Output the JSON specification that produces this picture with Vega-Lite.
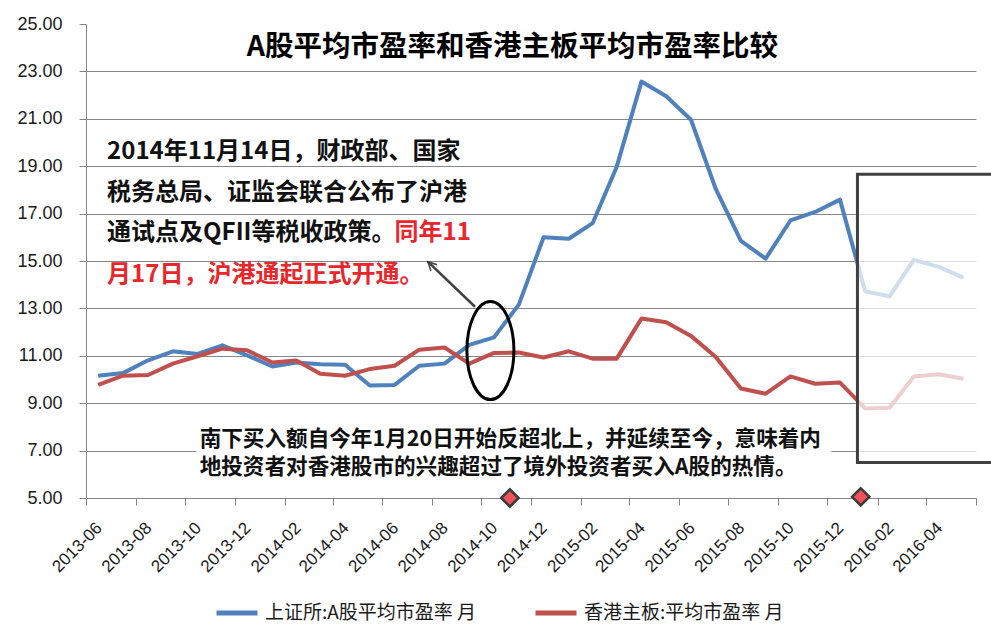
{
  "$schema": "https://vega.github.io/schema/vega-lite/v6.json",
  "autosize": {"type": "none"},
  "padding": {"left": 86, "top": 24, "right": 15, "bottom": 146},
  "width": 890,
  "height": 474,
  "background": "white",
  "config": {"view": {"stroke": null}},
  "datasets": {
    "pe": [
      {"month": "2013-06", "series": "上证所:A股平均市盈率 月", "pe": 10.16},
      {"month": "2013-07", "series": "上证所:A股平均市盈率 月", "pe": 10.27},
      {"month": "2013-08", "series": "上证所:A股平均市盈率 月", "pe": 10.81},
      {"month": "2013-09", "series": "上证所:A股平均市盈率 月", "pe": 11.19},
      {"month": "2013-10", "series": "上证所:A股平均市盈率 月", "pe": 11.08},
      {"month": "2013-11", "series": "上证所:A股平均市盈率 月", "pe": 11.44},
      {"month": "2013-12", "series": "上证所:A股平均市盈率 月", "pe": 11.02},
      {"month": "2014-01", "series": "上证所:A股平均市盈率 月", "pe": 10.55},
      {"month": "2014-02", "series": "上证所:A股平均市盈率 月", "pe": 10.72},
      {"month": "2014-03", "series": "上证所:A股平均市盈率 月", "pe": 10.64},
      {"month": "2014-04", "series": "上证所:A股平均市盈率 月", "pe": 10.62},
      {"month": "2014-05", "series": "上证所:A股平均市盈率 月", "pe": 9.75},
      {"month": "2014-06", "series": "上证所:A股平均市盈率 月", "pe": 9.77},
      {"month": "2014-07", "series": "上证所:A股平均市盈率 月", "pe": 10.58},
      {"month": "2014-08", "series": "上证所:A股平均市盈率 月", "pe": 10.67},
      {"month": "2014-09", "series": "上证所:A股平均市盈率 月", "pe": 11.46},
      {"month": "2014-10", "series": "上证所:A股平均市盈率 月", "pe": 11.78},
      {"month": "2014-11", "series": "上证所:A股平均市盈率 月", "pe": 13.16},
      {"month": "2014-12", "series": "上证所:A股平均市盈率 月", "pe": 16.0},
      {"month": "2015-01", "series": "上证所:A股平均市盈率 月", "pe": 15.94},
      {"month": "2015-02", "series": "上证所:A股平均市盈率 月", "pe": 16.6},
      {"month": "2015-03", "series": "上证所:A股平均市盈率 月", "pe": 18.97},
      {"month": "2015-04", "series": "上证所:A股平均市盈率 月", "pe": 22.57},
      {"month": "2015-05", "series": "上证所:A股平均市盈率 月", "pe": 21.95},
      {"month": "2015-06", "series": "上证所:A股平均市盈率 月", "pe": 20.96},
      {"month": "2015-07", "series": "上证所:A股平均市盈率 月", "pe": 18.04},
      {"month": "2015-08", "series": "上证所:A股平均市盈率 月", "pe": 15.85},
      {"month": "2015-09", "series": "上证所:A股平均市盈率 月", "pe": 15.1},
      {"month": "2015-10", "series": "上证所:A股平均市盈率 月", "pe": 16.71},
      {"month": "2015-11", "series": "上证所:A股平均市盈率 月", "pe": 17.07},
      {"month": "2015-12", "series": "上证所:A股平均市盈率 月", "pe": 17.59},
      {"month": "2016-01", "series": "上证所:A股平均市盈率 月", "pe": 13.72},
      {"month": "2016-02", "series": "上证所:A股平均市盈率 月", "pe": 13.51},
      {"month": "2016-03", "series": "上证所:A股平均市盈率 月", "pe": 15.05},
      {"month": "2016-04", "series": "上证所:A股平均市盈率 月", "pe": 14.75},
      {"month": "2016-05", "series": "上证所:A股平均市盈率 月", "pe": 14.3},
      {"month": "2013-06", "series": "香港主板:平均市盈率 月", "pe": 9.77},
      {"month": "2013-07", "series": "香港主板:平均市盈率 月", "pe": 10.16},
      {"month": "2013-08", "series": "香港主板:平均市盈率 月", "pe": 10.19},
      {"month": "2013-09", "series": "香港主板:平均市盈率 月", "pe": 10.67},
      {"month": "2013-10", "series": "香港主板:平均市盈率 月", "pe": 10.98},
      {"month": "2013-11", "series": "香港主板:平均市盈率 月", "pe": 11.3},
      {"month": "2013-12", "series": "香港主板:平均市盈率 月", "pe": 11.23},
      {"month": "2014-01", "series": "香港主板:平均市盈率 月", "pe": 10.72},
      {"month": "2014-02", "series": "香港主板:平均市盈率 月", "pe": 10.8},
      {"month": "2014-03", "series": "香港主板:平均市盈率 月", "pe": 10.24},
      {"month": "2014-04", "series": "香港主板:平均市盈率 月", "pe": 10.16},
      {"month": "2014-05", "series": "香港主板:平均市盈率 月", "pe": 10.44},
      {"month": "2014-06", "series": "香港主板:平均市盈率 月", "pe": 10.58},
      {"month": "2014-07", "series": "香港主板:平均市盈率 月", "pe": 11.26},
      {"month": "2014-08", "series": "香港主板:平均市盈率 月", "pe": 11.35},
      {"month": "2014-09", "series": "香港主板:平均市盈率 月", "pe": 10.67},
      {"month": "2014-10", "series": "香港主板:平均市盈率 月", "pe": 11.12},
      {"month": "2014-11", "series": "香港主板:平均市盈率 月", "pe": 11.14},
      {"month": "2014-12", "series": "香港主板:平均市盈率 月", "pe": 10.93},
      {"month": "2015-01", "series": "香港主板:平均市盈率 月", "pe": 11.19},
      {"month": "2015-02", "series": "香港主板:平均市盈率 月", "pe": 10.88},
      {"month": "2015-03", "series": "香港主板:平均市盈率 月", "pe": 10.88},
      {"month": "2015-04", "series": "香港主板:平均市盈率 月", "pe": 12.57},
      {"month": "2015-05", "series": "香港主板:平均市盈率 月", "pe": 12.42},
      {"month": "2015-06", "series": "香港主板:平均市盈率 月", "pe": 11.84},
      {"month": "2015-07", "series": "香港主板:平均市盈率 月", "pe": 10.95},
      {"month": "2015-08", "series": "香港主板:平均市盈率 月", "pe": 9.62},
      {"month": "2015-09", "series": "香港主板:平均市盈率 月", "pe": 9.4},
      {"month": "2015-10", "series": "香港主板:平均市盈率 月", "pe": 10.13},
      {"month": "2015-11", "series": "香港主板:平均市盈率 月", "pe": 9.82},
      {"month": "2015-12", "series": "香港主板:平均市盈率 月", "pe": 9.87},
      {"month": "2016-01", "series": "香港主板:平均市盈率 月", "pe": 8.78},
      {"month": "2016-02", "series": "香港主板:平均市盈率 月", "pe": 8.81},
      {"month": "2016-03", "series": "香港主板:平均市盈率 月", "pe": 10.13},
      {"month": "2016-04", "series": "香港主板:平均市盈率 月", "pe": 10.22},
      {"month": "2016-05", "series": "香港主板:平均市盈率 月", "pe": 10.03}
    ],
    "textbg": [{"start": "2013-10-15", "end": "2015-12-06", "low": 5.7, "high": 8.1}],
    "box": [{"start": "2016-01-07", "end": "2016-06-24", "low": 6.5, "high": 18.66}],
    "ellipse": [{"date": "2014-10-12", "value": 11.22}],
    "arrow": [{"from": "2014-09-23", "to": "2014-07-27", "fromValue": 13.07, "toValue": 14.97}],
    "arrowhead": [{"date": "2014-07-27", "value": 14.97}],
    "events": [{"date": "2014-11-05", "value": 5.0}, {"date": "2016-01-11", "value": 5.05}],
    "policy": [
      {"date": "2013-06-27", "value": 19.61, "text": "2014年11月14日，财政部、国家"},
      {"date": "2013-06-27", "value": 17.88, "text": "税务总局、证监会联合公布了沪港"},
      {"date": "2013-06-27", "value": 16.19, "text": "通试点及QFII等税收政策。"}
    ],
    "opening": [
      {"date": "2014-06-16", "value": 16.19, "text": "同年11"},
      {"date": "2013-06-27", "value": 14.42, "text": "月17日，沪港通起正式开通。"}
    ],
    "flows": [
      {"date": "2013-10-19", "value": 7.46, "text": "南下买入额自今年1月20日开始反超北上，并延续至今，意味着内"},
      {"date": "2013-10-19", "value": 6.28, "text": "地投资者对香港股市的兴趣超过了境外投资者买入A股的热情。"}
    ],
    "heading": [{"date": "2014-11-08", "value": 24.04, "text": "A股平均市盈率和香港主板平均市盈率比较"}]
  },
  "layer": [
    {
      "data": {"name": "pe"},
      "mark": {"type": "line", "strokeWidth": 4, "strokeJoin": "round"},
      "encoding": {
        "x": {
          "field": "month", "type": "temporal", "timeUnit": "utcyearmonth", "bandPosition": 0.5, "title": null,
          "scale": {"type": "utc", "domain": [{"year": 2013, "month": 6, "date": 1, "utc": true}, {"year": 2016, "month": 6, "date": 1, "utc": true}]},
          "axis": {
            "values": [
              {"year": 2013, "month": 6, "date": 1, "utc": true},
              {"year": 2013, "month": 8, "date": 1, "utc": true},
              {"year": 2013, "month": 10, "date": 1, "utc": true},
              {"year": 2013, "month": 12, "date": 1, "utc": true},
              {"year": 2014, "month": 2, "date": 1, "utc": true},
              {"year": 2014, "month": 4, "date": 1, "utc": true},
              {"year": 2014, "month": 6, "date": 1, "utc": true},
              {"year": 2014, "month": 8, "date": 1, "utc": true},
              {"year": 2014, "month": 10, "date": 1, "utc": true},
              {"year": 2014, "month": 12, "date": 1, "utc": true},
              {"year": 2015, "month": 2, "date": 1, "utc": true},
              {"year": 2015, "month": 4, "date": 1, "utc": true},
              {"year": 2015, "month": 6, "date": 1, "utc": true},
              {"year": 2015, "month": 8, "date": 1, "utc": true},
              {"year": 2015, "month": 10, "date": 1, "utc": true},
              {"year": 2015, "month": 12, "date": 1, "utc": true},
              {"year": 2016, "month": 2, "date": 1, "utc": true},
              {"year": 2016, "month": 4, "date": 1, "utc": true},
              {"year": 2016, "month": 6, "date": 1, "utc": true}
            ],
            "labelExpr": "utcFormat(datum.value, '%Y-%m') == '2016-06' ? '' : utcFormat(datum.value, '%Y-%m')",
            "labelAngle": -45, "labelAlign": "right", "labelBaseline": "middle",
            "labelOffset": 13, "labelPadding": 20, "labelOverlap": false, "labelBound": false,
            "labelFont": "Liberation Sans", "labelFontSize": 17, "labelColor": "#1a1a1a",
            "tickSize": 7, "tickColor": "#868686", "domainColor": "#868686", "grid": false
          }
        },
        "y": {
          "field": "pe", "type": "quantitative", "title": null,
          "scale": {"domain": [5, 25], "nice": false, "zero": false},
          "axis": {
            "values": [5, 7, 9, 11, 13, 15, 17, 19, 21, 23, 25],
            "format": ".2f",
            "labelFont": "Liberation Sans", "labelFontSize": 18, "labelColor": "#1a1a1a", "labelPadding": 17,
            "tickSize": 7, "tickColor": "#868686", "domainColor": "#868686",
            "grid": true, "gridColor": "#868686",
            "gridOpacity": {"condition": {"test": "datum.value == 25", "value": 0}, "value": 1}
          }
        },
        "color": {
          "field": "series", "type": "nominal",
          "scale": {"domain": ["上证所:A股平均市盈率 月", "香港主板:平均市盈率 月"], "range": ["#4F81BD", "#C0504D"]},
          "legend": {
            "orient": "none", "legendX": 128, "legendY": 566, "direction": "horizontal", "title": null,
            "symbolType": "stroke", "symbolStrokeWidth": 5, "symbolSize": 1681,
            "labelFont": "Noto Sans CJK SC", "labelFontSize": 19, "labelColor": "#1a1a1a",
            "columnPadding": 48, "labelLimit": 400, "labelOffset": 5
          }
        }
      }
    },
    {
      "data": {"name": "textbg"},
      "mark": {"type": "rect", "fill": "white"},
      "encoding": {
        "x": {"field": "start", "type": "temporal", "title": null},
        "x2": {"field": "end"},
        "y": {"field": "low", "type": "quantitative", "title": null},
        "y2": {"field": "high"}
      }
    },
    {
      "data": {"name": "box"},
      "mark": {"type": "rect", "fill": "white", "fillOpacity": 0.73, "stroke": "#404040", "strokeWidth": 3},
      "encoding": {
        "x": {"field": "start", "type": "temporal", "title": null},
        "x2": {"field": "end"},
        "y": {"field": "low", "type": "quantitative", "title": null},
        "y2": {"field": "high"}
      }
    },
    {
      "data": {"name": "ellipse"},
      "mark": {"type": "point", "filled": false, "stroke": "black", "strokeWidth": 3, "opacity": 1,
        "shape": "M 0 -1 C 0.265 -1 0.48 -0.552 0.48 0 C 0.48 0.552 0.265 1 0 1 C -0.265 1 -0.48 0.552 -0.48 0 C -0.48 -0.552 -0.265 -1 0 -1 Z",
        "size": 9604},
      "encoding": {
        "x": {"field": "date", "type": "temporal", "title": null},
        "y": {"field": "value", "type": "quantitative", "title": null}
      }
    },
    {
      "data": {"name": "arrow"},
      "mark": {"type": "rule", "stroke": "#404040", "strokeWidth": 2.5},
      "encoding": {
        "x": {"field": "from", "type": "temporal", "title": null},
        "x2": {"field": "to"},
        "y": {"field": "fromValue", "type": "quantitative", "title": null},
        "y2": {"field": "toValue"}
      }
    },
    {
      "data": {"name": "arrowhead"},
      "mark": {"type": "point", "filled": false, "stroke": "#404040", "strokeWidth": 1.5, "opacity": 1,
        "shape": "M -0.5 1 L 0 0 L 0.5 1", "size": 300, "angle": 315},
      "encoding": {
        "x": {"field": "date", "type": "temporal", "title": null},
        "y": {"field": "value", "type": "quantitative", "title": null}
      }
    },
    {
      "data": {"name": "events"},
      "mark": {"type": "point", "shape": "diamond", "filled": true, "fill": "#F0525A", "stroke": "#3A3A3A", "strokeWidth": 2.5, "size": 300, "opacity": 1},
      "encoding": {
        "x": {"field": "date", "type": "temporal", "title": null},
        "y": {"field": "value", "type": "quantitative", "title": null}
      }
    },
    {
      "data": {"name": "policy"},
      "mark": {"type": "text", "align": "left", "baseline": "middle", "font": "Noto Sans CJK SC", "fontSize": 24, "fontWeight": "bold", "fill": "#111111"},
      "encoding": {
        "x": {"field": "date", "type": "temporal", "title": null},
        "y": {"field": "value", "type": "quantitative", "title": null},
        "text": {"field": "text"}
      }
    },
    {
      "data": {"name": "opening"},
      "mark": {"type": "text", "align": "left", "baseline": "middle", "font": "Noto Sans CJK SC", "fontSize": 24, "fontWeight": "bold", "fill": "#E8262B"},
      "encoding": {
        "x": {"field": "date", "type": "temporal", "title": null},
        "y": {"field": "value", "type": "quantitative", "title": null},
        "text": {"field": "text"}
      }
    },
    {
      "data": {"name": "flows"},
      "mark": {"type": "text", "align": "left", "baseline": "middle", "font": "Noto Sans CJK SC", "fontSize": 21.6, "fontWeight": "bold", "fill": "#111111"},
      "encoding": {
        "x": {"field": "date", "type": "temporal", "title": null},
        "y": {"field": "value", "type": "quantitative", "title": null},
        "text": {"field": "text"}
      }
    },
    {
      "data": {"name": "heading"},
      "mark": {"type": "text", "align": "center", "baseline": "middle", "font": "Noto Sans CJK SC", "fontSize": 28.5, "fontWeight": "bold", "fill": "black"},
      "encoding": {
        "x": {"field": "date", "type": "temporal", "title": null},
        "y": {"field": "value", "type": "quantitative", "title": null},
        "text": {"field": "text"}
      }
    }
  ]
}
